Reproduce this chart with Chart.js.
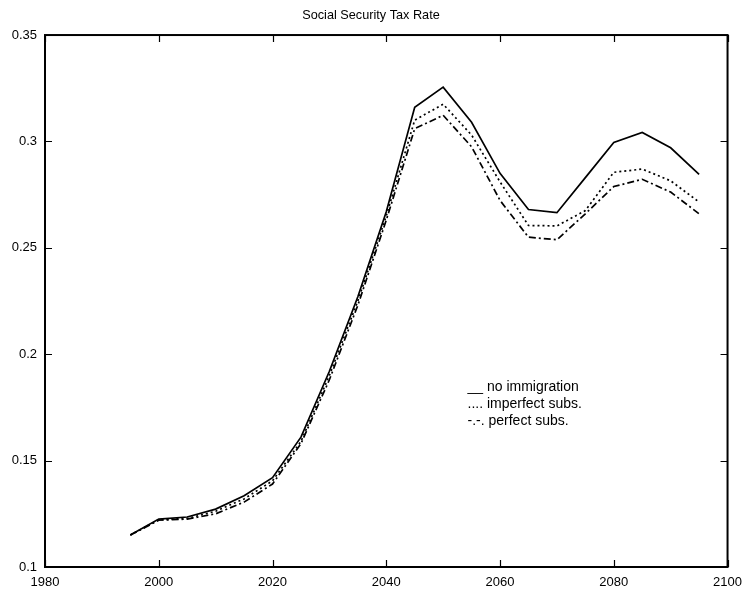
<!DOCTYPE html>
<html>
<head>
<meta charset="utf-8">
<script src="https://cdn.jsdelivr.net/npm/chart.js@4/dist/chart.umd.min.js"></script>
<style>
  html, body { margin: 0; padding: 0; background: #fff; }
  #wrap { width: 742px; height: 593px; }
</style>
</head>
<body>
<div id="wrap"><canvas id="chart"></canvas></div>
<script>
// Datos
const years = [1995, 2000, 2005, 2010, 2015, 2020, 2025, 2030, 2035, 2040, 2045,
               2050, 2055, 2060, 2065, 2070, 2075, 2080, 2085, 2090, 2095];
const noImmigration = [0.115, 0.1225, 0.1235, 0.1272, 0.1335, 0.142, 0.161, 0.192, 0.227, 0.267, 0.316,
                       0.3255, 0.309, 0.285, 0.268, 0.2665, 0.283, 0.2995, 0.3042, 0.297, 0.2845];
const imperfectSubs = [0.115, 0.1222, 0.1228, 0.1262, 0.132, 0.1405, 0.159, 0.19, 0.225, 0.265, 0.310,
                       0.3175, 0.303, 0.281, 0.2605, 0.2603, 0.2675, 0.2855, 0.2870, 0.2815, 0.2715];
const perfectSubs = [0.115, 0.122, 0.1225, 0.125, 0.1305, 0.139, 0.158, 0.188, 0.223, 0.263, 0.306,
                     0.3123, 0.2975, 0.2723, 0.255, 0.2538, 0.266, 0.2788, 0.2822, 0.2762, 0.266];
const xTicks = [1980, 2000, 2020, 2040, 2060, 2080, 2100];
const yTicks = [0.1, 0.15, 0.2, 0.25, 0.3, 0.35];
const legendLines = ['__ no immigration', '.... imperfect subs.', '-.-. perfect subs.'];

const FONT = 'Liberation Sans, Arial, Helvetica, sans-serif';

function toPoints(values) {
    return values.map((v, i) => ({ x: years[i], y: v }));
}

// Caja y marcas hacia dentro, estilo MATLAB
const boxPlugin = {
    id: 'boxPlugin',
    afterDraw(chart) {
        const ctx = chart.ctx;
        const a = chart.chartArea;
        const xs = chart.scales.x;
        const ys = chart.scales.y;
        const len = 7;
        ctx.save();
        ctx.strokeStyle = '#000';
        ctx.lineWidth = 2;
        ctx.strokeRect(a.left, a.top, a.right - a.left, a.bottom - a.top);
        ctx.lineWidth = 1.2;
        ctx.beginPath();
        xTicks.forEach(function(t) {
            const px = Math.round(xs.getPixelForValue(t)) + 0.5;
            ctx.moveTo(px, a.bottom); ctx.lineTo(px, a.bottom - len);
            ctx.moveTo(px, a.top); ctx.lineTo(px, a.top + len);
        });
        yTicks.forEach(function(t) {
            const py = Math.round(ys.getPixelForValue(t)) + 0.5;
            ctx.moveTo(a.left, py); ctx.lineTo(a.left + len, py);
            ctx.moveTo(a.right, py); ctx.lineTo(a.right - len, py);
        });
        ctx.stroke();

        // leyenda de texto dentro del gráfico
        ctx.fillStyle = '#000';
        ctx.font = '14px ' + FONT;
        ctx.textBaseline = 'middle';
        const lx = a.left + (a.right - a.left) * 0.619;
        const ly = a.top + (a.bottom - a.top) * 0.662;
        legendLines.forEach(function(txt, i) {
            ctx.fillText(txt, lx, ly + i * 17);
        });
        ctx.restore();
    }
};

new Chart(document.getElementById('chart'), {
    type: 'line',
    data: {
        datasets: [{
            label: 'no immigration',
            data: toPoints(noImmigration),
            borderColor: '#000',
            borderWidth: 1.7,
            pointRadius: 0,
            tension: 0
        }, {
            label: 'imperfect subs.',
            data: toPoints(imperfectSubs),
            borderColor: '#000',
            borderWidth: 1.7,
            borderDash: [2, 3],
            pointRadius: 0,
            tension: 0
        }, {
            label: 'perfect subs.',
            data: toPoints(perfectSubs),
            borderColor: '#000',
            borderWidth: 1.7,
            borderDash: [7, 3, 2, 3],
            pointRadius: 0,
            tension: 0
        }]
    },
    options: {
        responsive: true,
        maintainAspectRatio: false,
        animation: false,
        layout: { padding: { right: 0, left: 0, bottom: 0 } },
        plugins: {
            legend: { display: false },
            tooltip: { enabled: false },
            title: {
                display: true,
                text: 'Social Security Tax Rate',
                color: '#000',
                font: { family: FONT, size: 12.7, weight: 'normal' },
                padding: { top: 8, bottom: 11.8 }
            }
        },
        scales: {
            x: {
                type: 'linear',
                min: 1980,
                max: 2100,
                afterBuildTicks: function(scale) {
                    scale.ticks = xTicks.map(v => ({ value: v }));
                },
                afterFit: function(scale) { scale.height = 26; },
                grid: { display: false, drawTicks: true, tickLength: 8 },
                border: { display: false },
                ticks: {
                    color: '#000',
                    padding: 0,
                    maxRotation: 0,
                    font: { family: FONT, size: 13 },
                    callback: v => String(v)
                }
            },
            y: {
                min: 0.1,
                max: 0.35,
                afterBuildTicks: function(scale) {
                    scale.ticks = yTicks.map(v => ({ value: v }));
                },
                afterFit: function(scale) { scale.width = 45; },
                grid: { display: false, drawTicks: false },
                border: { display: false },
                ticks: {
                    color: '#000',
                    padding: 8,
                    font: { family: FONT, size: 13 },
                    callback: v => String(v)
                }
            }
        }
    },
    plugins: [boxPlugin]
});
</script>
</body>
</html>
